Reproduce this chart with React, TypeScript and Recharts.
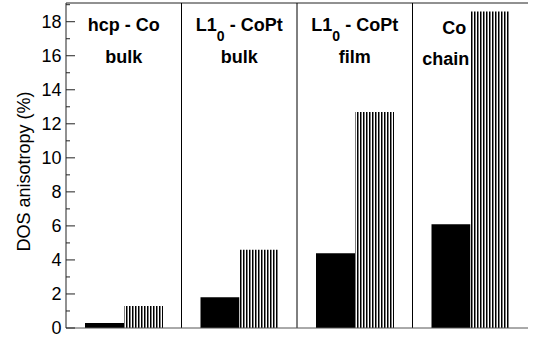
import React from 'react';
import { BarChart, Bar, XAxis, YAxis, ReferenceLine, ReferenceDot } from 'recharts';

const panels = ['hcp-Co bulk', 'L10-CoPt bulk', 'L10-CoPt film', 'Co chain'];
const solidValues = [0.3, 1.8, 4.4, 6.1];
const hatchedValues = [1.3, 4.6, 12.7, 18.6];
const titlePrefix = ['hcp - Co', 'L1', 'L1', 'Co'];
const titleSub = ['', '0', '0', ''];
const titleRest = ['', ' - CoPt', ' - CoPt', ''];
const titleSecond = ['bulk', 'bulk', 'film', 'chain'];
const yTicks = [0, 1, 2, 3, 4, 5, 6, 7, 8, 9, 10, 11, 12, 13, 14, 15, 16, 17, 18, 19];
const yMax = 19.1;
const yTitle1 = 17.45;
const yTitle2 = 15.57;

const data = panels.map((name, i) => ({ name, solid: solidValues[i], hatched: hatchedValues[i] }));

const FONT = 'Liberation Sans, Arial, Helvetica, sans-serif';
const AXIS = '#222';

const LeftTick = (props: any) => {
  const { x, y, payload } = props;
  const v = payload.value;
  const major = v % 2 === 0;
  return (
    <g>
      <line x1={x} x2={x + (major ? 9 : 4)} y1={y} y2={y} stroke={AXIS} strokeWidth={1} />
      {major && (
        <text x={x - 4.5} y={y} dy="0.36em" textAnchor="end" fontSize={18} fontFamily={FONT} fill="#000">
          {v}
        </text>
      )}
    </g>
  );
};

const RightTick = (props: any) => {
  const { x, y, payload } = props;
  const major = payload.value % 2 === 0;
  return <line x1={x} x2={x - (major ? 9 : 4)} y1={y} y2={y} stroke={AXIS} strokeWidth={1} />;
};

const YLabel = (props: any) => {
  const vb = props.viewBox || { x: 0, y: 0, width: 0, height: 0 };
  const cx = vb.x + 30;
  const cy = vb.y + vb.height / 2 + 6;
  return (
    <text
      x={cx}
      y={cy}
      transform={`rotate(-90, ${cx}, ${cy})`}
      textAnchor="middle"
      fontSize={18}
      fontFamily={FONT}
      fill="#000"
    >
      DOS anisotropy (%)
    </text>
  );
};

const makeTitle1 = (i: number) => (p: any) => {
  const last = i === panels.length - 1;
  return (
    <text
      x={p.cx - (last ? 4 : 0)}
      y={p.cy + (last ? 3 : 0)}
      textAnchor={last ? 'end' : 'middle'}
      fontSize={18}
      fontWeight="bold"
      fontFamily={FONT}
      fill="#000"
    >
      {titlePrefix[i]}
      {titleSub[i] && (
        <tspan dy={10} fontSize={14}>
          {titleSub[i]}
        </tspan>
      )}
      {titleRest[i] && <tspan dy={-10}>{titleRest[i]}</tspan>}
    </text>
  );
};

const makeTitle2 = (i: number) => (p: any) => {
  const last = i === panels.length - 1;
  return (
    <text
      x={p.cx - (last ? 1 : 0)}
      y={p.cy + (last ? 2 : 0)}
      textAnchor={last ? 'end' : 'middle'}
      fontSize={18}
      fontWeight="bold"
      fontFamily={FONT}
      fill="#000"
    >
      {titleSecond[i]}
    </text>
  );
};

export default function App() {
  return (
    <div style={{ position: 'absolute', left: 0, top: 0, width: 537, height: 339, background: '#fff' }}>
      <svg width={0} height={0} style={{ position: 'absolute' }}>
        <defs>
          <pattern id="vstripes" patternUnits="userSpaceOnUse" width={3} height={10}>
            <rect x={0} y={0} width={3} height={10} fill="#fff" />
            <rect x={0} y={0} width={1.5} height={10} fill="#000" />
          </pattern>
        </defs>
      </svg>
      <BarChart
        width={537}
        height={339}
        data={data}
        margin={{ top: 3, right: 9, bottom: 0, left: 0 }}
        barCategoryGap={19}
        barGap={0}
      >
        <XAxis
          dataKey="name"
          tick={false}
          tickLine={false}
          height={11}
          axisLine={{ stroke: '#555', strokeWidth: 1 }}
        />
        <YAxis
          domain={[0, yMax]}
          ticks={yTicks}
          width={66}
          tickSize={0}
          tickMargin={0}
          tickLine={false}
          tick={<LeftTick />}
          axisLine={{ stroke: AXIS, strokeWidth: 1 }}
          interval={0}
          label={<YLabel />}
        />
        <YAxis
          yAxisId="right"
          orientation="right"
          domain={[0, yMax]}
          ticks={yTicks}
          width={0}
          tickSize={0}
          tickMargin={0}
          tickLine={false}
          tick={<RightTick />}
          axisLine={{ stroke: AXIS, strokeWidth: 1 }}
          interval={0}
        />
        <ReferenceLine y={yMax} stroke={AXIS} strokeWidth={1} />
        {panels.slice(1).map((name) => (
          <ReferenceLine key={name} x={name} position="start" stroke="#000" strokeWidth={1} />
        ))}
        <Bar dataKey="solid" fill="#000" isAnimationActive={false} />
        <Bar dataKey="hatched" fill="url(#vstripes)" isAnimationActive={false} />
        {panels.map((name, i) => (
          <ReferenceDot key={'t1' + i} x={name} y={yTitle1} r={0} shape={makeTitle1(i)} />
        ))}
        {panels.map((name, i) => (
          <ReferenceDot key={'t2' + i} x={name} y={yTitle2} r={0} shape={makeTitle2(i)} />
        ))}
      </BarChart>
    </div>
  );
}
